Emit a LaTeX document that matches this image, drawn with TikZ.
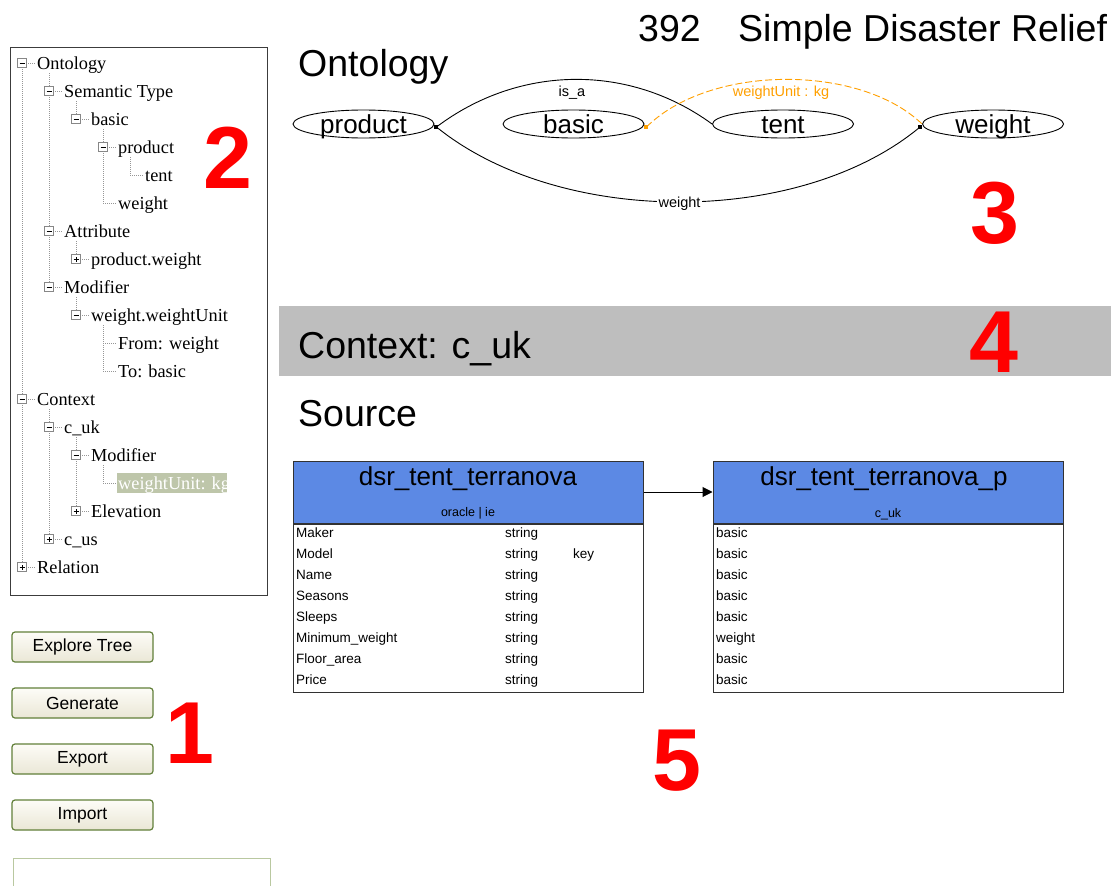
\documentclass[tikz,border=0pt]{standalone}
\usepackage{fontspec}
\setmainfont{Liberation Sans}
\newfontfamily\treefont{Liberation Serif}
\usetikzlibrary{arrows.meta,shapes.geometric}
\definecolor{hdrblue}{RGB}{92,137,228}
\definecolor{ctxgray}{RGB}{190,190,190}
\definecolor{btnborder}{RGB}{98,128,58}
\definecolor{btntop}{RGB}{253,252,247}
\definecolor{btnbot}{RGB}{234,231,214}
\definecolor{selbg}{RGB}{190,198,170}
\definecolor{orangeE}{RGB}{255,160,0}
\definecolor{treeline}{RGB}{150,150,150}
\definecolor{boxgray}{RGB}{135,135,135}
\definecolor{lightgreen}{RGB}{185,200,160}
\definecolor{panelborder}{RGB}{60,60,60}
\definecolor{tblborder}{RGB}{50,50,50}
\newcommand\fsz[1]{\fontsize{#1}{#1}\selectfont}
\begin{document}
\begin{tikzpicture}[x=1pt,y=-1pt,
  every node/.style={inner sep=0},
  tline/.style={draw=treeline, dash pattern=on 1pt off 1pt, line width=0.8pt},
  tboxm/.style={draw=boxgray, fill=white, minimum size=9.5pt, line width=0.8pt,
    path picture={\draw[black,line width=0.9pt] ([xshift=-2.5pt]path picture bounding box.center) -- ([xshift=2.5pt]path picture bounding box.center);}},
  tboxp/.style={tboxm,
    path picture={\draw[black,line width=0.9pt] ([xshift=-2.5pt]path picture bounding box.center) -- ([xshift=2.5pt]path picture bounding box.center);
                  \draw[black,line width=0.9pt] ([yshift=-2.5pt]path picture bounding box.center) -- ([yshift=2.5pt]path picture bounding box.center);}},
  ttext/.style={anchor=base west, font=\treefont\fsz{18.3}},
  btn/.style={draw=btnborder, line width=1.2pt, rounded corners=3pt, top color=btntop, bottom color=btnbot,
    minimum width=141pt, minimum height=30pt, font=\fsz{17.5}},
  redn/.style={anchor=base, text=red, font=\bfseries\fsz{88}},
  heading/.style={anchor=base west, font=\fsz{37.5}},
  ont/.style={draw, ellipse, minimum width=141pt, minimum height=28pt, line width=0.9pt},
  ontlbl/.style={anchor=base, font=\fsz{26}},
  edgelbl/.style={font=\fsz{14.5}},
  sqmark/.style={minimum size=4pt},
  hdr/.style={draw=tblborder, fill=hdrblue, line width=1pt, minimum width=350pt, minimum height=62pt},
  tbody/.style={draw=tblborder, fill=white, line width=1pt, minimum width=350pt, minimum height=168pt, anchor=north},
  hdrtitle/.style={anchor=base, font=\fsz{26}},
  hdrsub/.style={anchor=base, font=\fsz{12.5}},
  rowtxt/.style={anchor=base west, font=\fsz{13.5}}
]
\useasboundingbox (0,0) rectangle (1111,886);
\fill[white] (0,0) rectangle (1111,886);

% ---------------- tree panel ----------------
\node[draw=panelborder, line width=1pt, minimum width=257pt, minimum height=548pt, anchor=north west] (panel) at (10,47) {};
\foreach \x/\ya/\yb in {22/63/567, 49/73/287, 76/101/119, 103/129/203, 130/157/175, 76/241/259,
                        76/297/315, 103/325/371, 49/409/539, 76/437/511, 103/465/483}
  \draw[tline] (\x,\ya) -- (\x,\yb);
\fill[selbg] (117,473) rectangle (227,493);
\foreach \L/\r/\txt [count=\k] in {0/0/Ontology, 1/1/Semantic Type, 2/2/basic, 3/3/product, 4/4/tent,
    3/5/weight, 1/6/Attribute, 2/7/product.weight, 1/8/Modifier, 2/9/weight.weightUnit,
    3/10/From: weight, 3/11/To: basic, 0/12/Context, 1/13/c\_uk, 2/14/Modifier,
    2/16/Elevation, 1/17/c\_us, 0/18/Relation}{
  \pgfmathsetmacro\xL{22+27*\L}
  \pgfmathsetmacro\yR{63+28*\r}
  \draw[tline] (\xL,\yR) -- (\xL+14,\yR);
  \node[ttext] (t\k) at (\xL+15,\yR+6) {\txt};
}
\draw[tline] (103,483) -- (117,483);
\node[ttext, text=white] (tsel) at (118,489) {weightUnit: kg};
\foreach \L/\r/\t [count=\k] in {0/0/m, 1/1/m, 2/2/m, 3/3/m, 1/6/m, 2/7/p, 1/8/m, 2/9/m,
    0/12/m, 1/13/m, 2/14/m, 2/16/p, 1/17/p, 0/18/p}{
  \pgfmathsetmacro\xL{22+27*\L}
  \pgfmathsetmacro\yR{63+28*\r}
  \node[tbox\t] (b\k) at (\xL,\yR) {};
}

% ---------------- buttons ----------------
\node[btn] (bexplore) at (82.5,647) {Explore Tree};
\node[btn] (bgen) at (82.5,703) {Generate};
\node[btn] (bexport) at (82.5,759) {Export};
\node[btn] (bimport) at (82.5,815) {Import};
\draw[lightgreen, line width=1pt] (13,886) -- (13,858) -- (270,858) -- (270,886);

% ---------------- title & headings ----------------
\node[heading] (num) at (638,41) {392};
\node[heading] (title) at (738,41) {Simple Disaster Relief};
\node[heading] (hont) at (298,76) {Ontology};

% ---------------- ontology graph ----------------
\node[ont] (product) at (363.5,124) {};
\node[ont] (basic) at (573.5,124) {};
\node[ont] (tent) at (783,124) {};
\node[ont] (weight) at (993,124) {};
\node[ontlbl] (lproduct) at (363.5,133) {product};
\node[ontlbl] (lbasic) at (573.5,133) {basic};
\node[ontlbl] (ltent) at (783,133) {tent};
\node[ontlbl] (lweight) at (993,133) {weight};

\coordinate (pe) at ([xshift=2pt,yshift=-3pt]product.east);
\coordinate (be) at ([xshift=2pt,yshift=-3pt]basic.east);
\coordinate (we) at ([xshift=-2pt,yshift=-3pt]weight.west);

\draw[line width=0.9pt] (pe) .. controls (520,64) and (630,64) .. (tent.west);
\node[edgelbl] (lisa) at (572,93) {is\_a};
\draw[line width=0.9pt] (pe) .. controls (560,227) and (800,227) .. node[pos=0.5, fill=white, inner xsep=1.5pt, inner ysep=1pt, yshift=-2pt] (lw) {\fsz{14.5}weight} (we);
\draw[orangeE, line width=0.9pt, dash pattern=on 7pt off 3pt] (be) .. controls (710,64) and (860,64) .. (weight.west);
\node[edgelbl, text=orangeE] (lunit) at (781,93) {weightUnit : kg};
\node[sqmark, fill=black] (m1) at (pe) {};
\node[sqmark, fill=black] (m2) at (we) {};
\node[sqmark, fill=orangeE] (m3) at (be) {};

% ---------------- context bar ----------------
\fill[ctxgray] (279,306) rectangle (1111,376);
\node[heading] (hctx) at (298,358) {Context: c\_uk};
\node[heading] (hsrc) at (298,426) {Source};

% ---------------- tables ----------------
\node[hdr] (src) at (468,492) {};
\node[tbody] (srcbody) at (src.south) {};
\node[hdrtitle] (srct) at (468,485) {dsr\_tent\_terranova};
\node[hdrsub] (srcs) at (468,516) {oracle | ie};
\foreach \a/\b [count=\i from 0] in {Maker/string, Model/string, Name/string, Seasons/string,
    Sleeps/string, Minimum\_weight/string, Floor\_area/string, Price/string}{
  \node[rowtxt] (sa\i) at (296,537+21*\i) {\a};
  \node[rowtxt] (sb\i) at (505,537+21*\i) {\b};
}
\node[rowtxt] (skey) at (573,558) {key};

\node[hdr] (tgt) at (888,492) {};
\node[tbody] (tgtbody) at (tgt.south) {};
\node[hdrtitle] (tgtt) at (884,485) {dsr\_tent\_terranova\_p};
\node[hdrsub] (tgts) at (888,517) {c\_uk};
\foreach \a [count=\i from 0] in {basic, basic, basic, basic, basic, weight, basic, basic}{
  \node[rowtxt] (ta\i) at (716,537+21*\i) {\a};
}
\draw[line width=1pt, -{Triangle[length=10pt,width=10pt]}] (src.east) -- (tgt.west);

% ---------------- red numbers ----------------
\node[redn] (n2) at (227.5,188) {2};
\node[redn] (n1) at (190,763) {1};
\node[redn] (n3) at (995,243) {3};
\node[redn] (n4) at (994,372) {4};
\node[redn] (n5) at (677,790) {5};
\end{tikzpicture}
\end{document}
